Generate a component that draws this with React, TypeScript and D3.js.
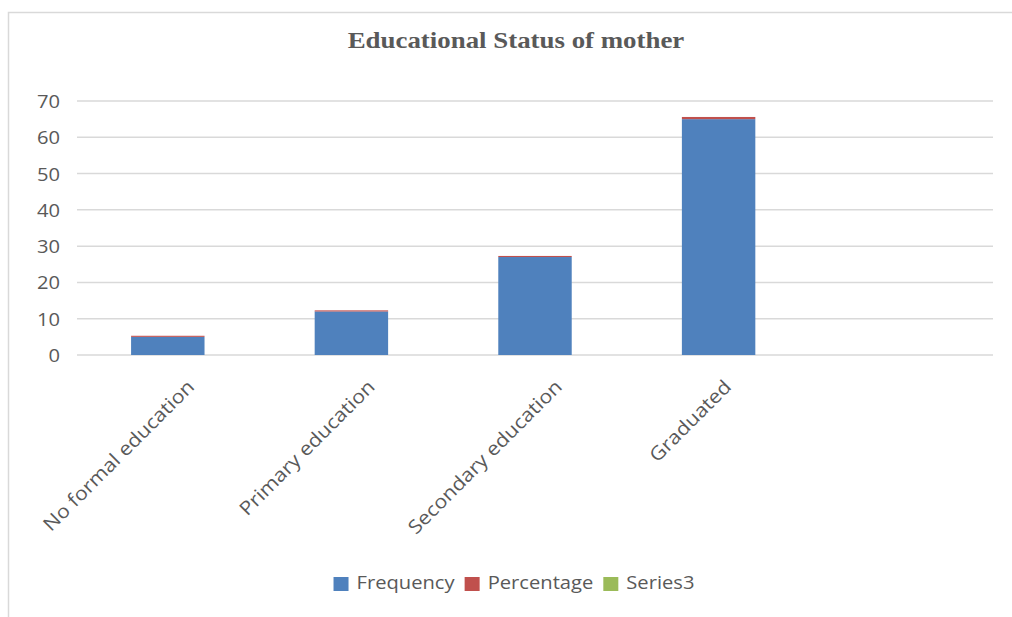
import React, { useEffect, useRef } from "react";
import * as d3 from "d3";

// values
const categories = ["No formal education", "Primary education", "Secondary education", "Graduated"];
const frequency = [5, 12, 27, 65];
const percentage = [0.3, 0.3, 0.3, 0.6];
const series3 = [0, 0, 0, 0];
const seriesNames = ["Frequency", "Percentage", "Series3"];
const yTicks = [0, 10, 20, 30, 40, 50, 60, 70];
const title = "Educational Status of mother";

const colors = ["#4f81bd", "#c0504d", "#9bbb59"];
const textColor = "#595959";
const gridColor = "#d9d9d9";
const SX = 1.12; // the reference is slightly stretched horizontally
const font = "'Open Sans', sans-serif";

export default function App() {
  const ref = useRef<SVGSVGElement>(null);

  useEffect(() => {
    const svg = d3.select(ref.current);
    svg.selectAll("*").remove();

    const width = 1012;
    const height = 617;
    const margin = { top: 101, left: 76, right: 18, bottom: 262 };

    svg.append("rect")
      .attr("x", 8.5).attr("y", 12.5)
      .attr("width", width).attr("height", height)
      .attr("fill", "#fff")
      .attr("stroke", gridColor).attr("stroke-width", 1.5);

    // an empty fifth slot, as in the original
    const slots = [...categories, ""];
    const x = d3.scaleBand<string>()
      .domain(slots)
      .range([margin.left, width - margin.right])
      .paddingInner(0.6)
      .paddingOuter(0.3);

    const y = d3.scaleLinear()
      .domain([0, 70])
      .range([height - margin.bottom, margin.top]);

    // gridlines
    svg.append("g").selectAll("line").data(yTicks).enter().append("line")
      .attr("x1", margin.left + 1).attr("x2", width - margin.right - 1)
      .attr("y1", d => y(d)).attr("y2", d => y(d))
      .attr("stroke", gridColor).attr("stroke-width", 1.5);

    // y labels
    svg.append("g").selectAll("text").data(yTicks).enter().append("text")
      .attr("transform", d => `translate(60,${y(d) + 7}) scale(${SX},1)`)
      .attr("text-anchor", "end")
      .attr("font-family", font).attr("font-size", 18)
      .attr("fill", textColor)
      .text(d => d);

    // stacked bars
    const table = categories.map((c, i) => ({
      cat: c,
      Frequency: frequency[i],
      Percentage: percentage[i],
      Series3: series3[i],
    }));
    const stacked = d3.stack<any>().keys(seriesNames)(table);

    stacked.forEach((layer, k) => {
      svg.append("g").selectAll("rect").data(layer).enter().append("rect")
        .attr("x", d => x(d.data.cat)!)
        .attr("width", x.bandwidth())
        .attr("y", d => y(d[1]))
        .attr("height", d => y(d[0]) - y(d[1]))
        .attr("fill", colors[k]);
    });

    // x labels rotated
    const xl = svg.append("g");
    categories.forEach(c => {
      const t = xl.append("text")
        .attr("text-anchor", "end")
        .attr("font-family", font).attr("font-size", 19)
        .attr("fill", textColor)
        .text(c);
      const len = (t.node() as SVGTextElement).getComputedTextLength() * SX;
      const cx = x(c)! + x.bandwidth() / 2;
      const ex = cx - 1 + 0.14 * len;
      t.attr("transform", `translate(${ex},388) rotate(-45) scale(${SX},1)`);
    });

    // title
    svg.append("text")
      .attr("transform", `translate(516,48) scale(${SX},1)`)
      .attr("text-anchor", "middle")
      .attr("font-family", "'Liberation Serif', 'Times New Roman', serif")
      .attr("font-weight", "bold").attr("font-size", 24)
      .attr("fill", textColor)
      .text(title);

    // legend
    const lg = svg.append("g");
    const items = seriesNames.map((name, i) => {
      const g = lg.append("g");
      g.append("rect").attr("width", 15).attr("height", 14).attr("y", -12).attr("fill", colors[i]);
      const t = g.append("text")
        .attr("transform", `translate(23,0) scale(${SX},1)`)
        .attr("font-family", font).attr("font-size", 18)
        .attr("fill", textColor)
        .text(name);
      const w = 23 + (t.node() as SVGTextElement).getComputedTextLength() * SX;
      return { g, w };
    });
    const gap = 10;
    const total = d3.sum(items, d => d.w) + gap * (items.length - 1);
    let pos = 514 - total / 2;
    items.forEach(it => {
      it.g.attr("transform", `translate(${pos},589)`);
      pos += it.w + gap;
    });
  }, []);

  return (
    <div style={{ position: "fixed", left: 0, top: 0 }}>
      <svg ref={ref} width={1012} height={617} style={{ display: "block" }} />
    </div>
  );
}
